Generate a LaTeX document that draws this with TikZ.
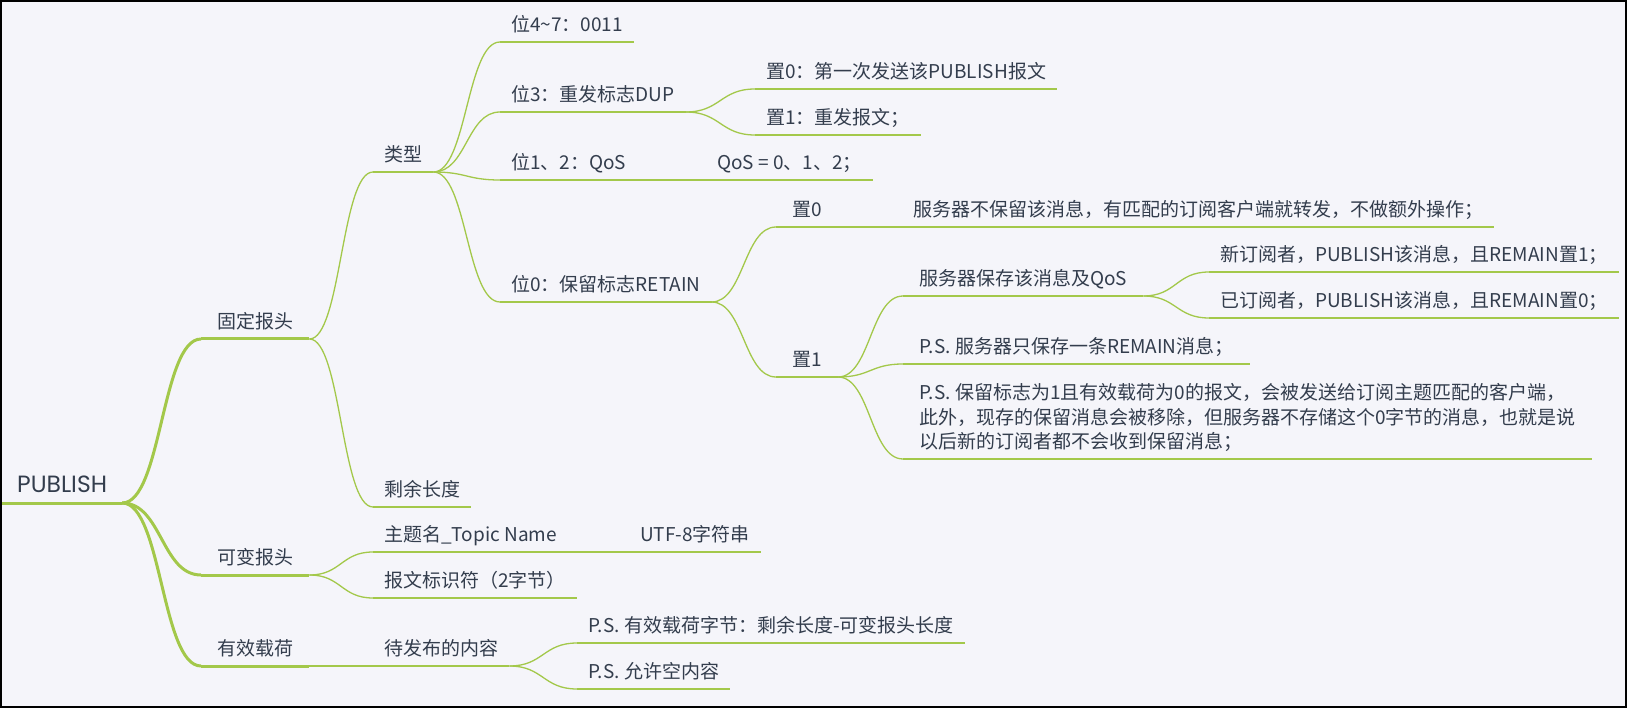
\documentclass[tikz,border=0pt]{standalone}
\usepackage{fontspec}
\setmainfont{Noto Sans CJK SC}
\newfontfamily\rootfont{Poppins}
\usetikzlibrary{calc}
\definecolor{branchgreen}{HTML}{A3C84A}
\definecolor{inkgray}{HTML}{333D4D}
\definecolor{paper}{HTML}{F5F5FA}

\begin{document}
\begin{tikzpicture}[x=1pt, y=-1pt,
    topic/.style={anchor=south west, inner xsep=11pt, inner ysep=0pt, text depth=10pt,
                  align=left, text=inkgray, font=\fontsize{19}{24.5}\selectfont},
    major/.style={topic, inner xsep=16pt},
    under/.style={draw=branchgreen, line width=1.3pt},
    thickunder/.style={draw=branchgreen, line width=3pt},
    link/.style={under, to path={let \p1=(\tikztostart), \p2=(\tikztotarget) in
        .. controls ({0.5*\x1+0.5*\x2},\y1) and ({0.5*\x1+0.5*\x2},\y2) .. (\tikztotarget)}},
    thicklink/.style={link, line width=3pt}
]
\fill[paper] (0,0) rectangle (1627,708);
\draw[line width=2pt] (1,1) rectangle (1626,707);
\useasboundingbox (0,0) rectangle (1627,708);

\node[topic, inner xsep=15pt, font=\rootfont\fontsize{23.5}{28}\selectfont] (root) at (2,503) {PUBLISH};
\node[major] (fixed) at (201,339) {固定报头};
\node[major] (varhead) at (201,575) {可变报头};
\node[major] (payload) at (201,666) {有效载荷};
\node[topic] (type) at (373,172) {类型};
\node[topic] (remlen) at (373,507) {剩余长度};
\node[topic] (topicname) at (373,552) {主题名\_Topic Name};
\node[topic] (utf) at (629,552) {UTF-8字符串};
\node[topic] (packetid) at (373,598) {报文标识符（2字节）};
\node[topic] (content) at (373,666) {待发布的内容};
\node[topic] (bits47) at (500,42) {位4\textasciitilde 7：0011};
\node[topic] (bit3) at (500,112) {位3：重发标志DUP};
\node[topic] (bits12) at (500,180) {位1、2：QoS};
\node[topic] (qosval) at (706,180) {QoS = 0、1、2；};
\node[topic] (bit0) at (500,302) {位0：保留标志RETAIN};
\node[topic] (dupzero) at (755,89) {置0：第一次发送该PUBLISH报文};
\node[topic] (dupone) at (755,135) {置1：重发报文；};
\node[major] (retzero) at (776,227) {置0};
\node[topic] (retzerotxt) at (902,227) {服务器不保留该消息，有匹配的订阅客户端就转发，不做额外操作；};
\node[major] (retone) at (776,377) {置1};
\node[major] (keep) at (903,296) {服务器保存该消息及QoS};
\node[topic] (newsub) at (1209,272) {新订阅者，PUBLISH该消息，且REMAIN置1；};
\node[topic] (oldsub) at (1209,318) {已订阅者，PUBLISH该消息，且REMAIN置0；};
\node[major] (onlyone) at (903,364) {P.S. 服务器只保存一条REMAIN消息；};
\node[major] (emptyret) at (903,459) {P.S. 保留标志为1且有效载荷为0的报文，会被发送给订阅主题匹配的客户端，\\此外，现存的保留消息会被移除，但服务器不存储这个0字节的消息，也就是说\\以后新的订阅者都不会收到保留消息；};
\node[topic] (psbytes) at (577,643) {P.S. 有效载荷字节：剩余长度-可变报头长度};
\node[topic] (psempty) at (577,689) {P.S. 允许空内容};

\foreach \t in {root, fixed, varhead, payload}
    \draw[thickunder] (\t.south west) -- (\t.south east);
\foreach \t in {type, remlen, topicname, utf, packetid, content, bits47, bit3, bits12, qosval,
                bit0, dupzero, dupone, retzero, retzerotxt, retone, keep, newsub, oldsub,
                onlyone, emptyret, psbytes, psempty}
    \draw[under] (\t.south west) -- (\t.south east);

\draw[thicklink] (root.south east) to (fixed.south west);
\draw[thicklink] (root.south east) to (varhead.south west);
\draw[thicklink] (root.south east) to (payload.south west);
\draw[link] (fixed.south east) to (type.south west);
\draw[link] (fixed.south east) to (remlen.south west);
\draw[link] (varhead.south east) to (topicname.south west);
\draw[link] (varhead.south east) to (packetid.south west);
\draw[link] (payload.south east) to (content.south west);
\draw[link] (topicname.south east) to (utf.south west);
\draw[link] (type.south east) to (bits47.south west);
\draw[link] (type.south east) to (bit3.south west);
\draw[link] (type.south east) to (bits12.south west);
\draw[link] (type.south east) to (bit0.south west);
\draw[link] (bits12.south east) to (qosval.south west);
\draw[link] (bit3.south east) to (dupzero.south west);
\draw[link] (bit3.south east) to (dupone.south west);
\draw[link] (bit0.south east) to (retzero.south west);
\draw[link] (bit0.south east) to (retone.south west);
\draw[link] (retzero.south east) to (retzerotxt.south west);
\draw[link] (retone.south east) to (keep.south west);
\draw[link] (retone.south east) to (onlyone.south west);
\draw[link] (retone.south east) to (emptyret.south west);
\draw[link] (keep.south east) to (newsub.south west);
\draw[link] (keep.south east) to (oldsub.south west);
\draw[link] (content.south east) to (psbytes.south west);
\draw[link] (content.south east) to (psempty.south west);
\end{tikzpicture}
\end{document}
